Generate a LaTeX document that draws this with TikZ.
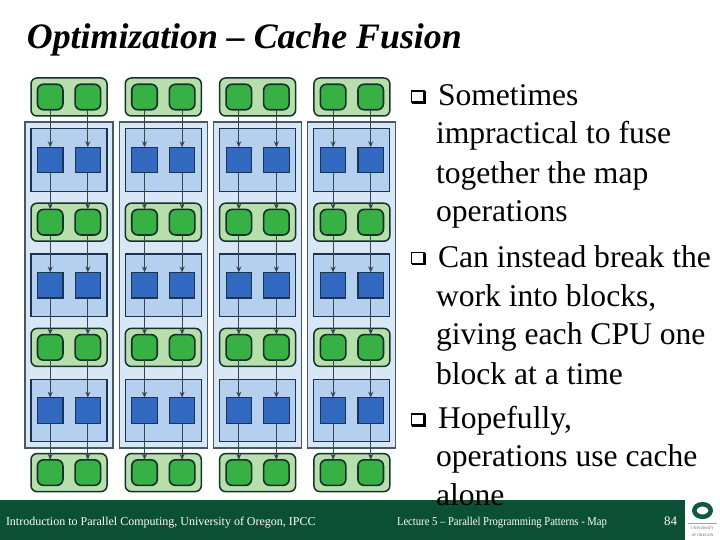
\documentclass[tikz,border=0pt]{standalone}
\usepackage{fontspec}
\setmainfont{Liberation Serif}
\usetikzlibrary{arrows.meta}
\definecolor{grpfill}{HTML}{B6DFAC}
\definecolor{cellfill}{HTML}{37B044}
\definecolor{panelfill}{HTML}{D8E7F6}
\definecolor{blockfill}{HTML}{B5CFEE}
\definecolor{sqfill}{HTML}{3169C1}
\definecolor{edgedark}{HTML}{16302C}
\definecolor{bluedark}{HTML}{1C3350}
\definecolor{paneledge}{HTML}{465A66}
\definecolor{linkcol}{HTML}{37454F}
\definecolor{footgreen}{HTML}{0B4F35}
\definecolor{logogreen}{HTML}{0F5A3C}
\tikzset{
  every node/.style={inner sep=0pt,outer sep=0pt},
  grpbox/.style={draw=edgedark,fill=grpfill,line width=1.5pt,rounded corners=6pt,minimum width=76pt,minimum height=38pt},
  cellbox/.style={draw=edgedark,fill=cellfill,line width=1.6pt,rounded corners=6pt,minimum width=25.5pt,minimum height=25.5pt},
  panelbox/.style={draw=paneledge,fill=panelfill,line width=1.1pt,minimum width=88pt,minimum height=326pt},
  blockbox/.style={draw=bluedark,fill=blockfill,line width=1.1pt,minimum width=76pt,minimum height=62.5pt},
  sqbox/.style={draw=bluedark,fill=sqfill,line width=1.1pt,minimum width=25.5pt,minimum height=25.5pt},
  link/.style={draw=linkcol,line width=1pt,-{Stealth[length=6pt,width=5pt]}},
  bodytext/.style={anchor=base west,font=\fontsize{31.6}{31.6}\selectfont},
  foot/.style={anchor=base west,text=white,font=\fontsize{12}{12}\selectfont},
}
\newcommand{\bulletbox}[3]{%
  \node[draw=black,line width=1.3pt,fill=white,minimum width=12.5pt,minimum height=11pt,anchor=north west] (#1) at (#2,#3) {};
  \fill[black] (#1.north east) rectangle ([xshift=1.8pt]#1.south east);
  \fill[black] ([yshift=-1.6pt,xshift=1.8pt]#1.south east) rectangle (#1.south west);
}
\begin{document}
\begin{tikzpicture}[x=1pt,y=-1pt]
\useasboundingbox (0,0) rectangle (720,540);
\fill[white] (0,0) rectangle (720,540);
% title
\node[anchor=base west,font=\fontsize{35.8}{35.8}\selectfont\bfseries\itshape] (title) at (27,49) {Optimization – Cache Fusion};
% columns
\foreach \c in {0,1,2,3} {
  \pgfmathsetmacro{\xc}{69+94.3*\c}
  \node[panelbox] (panel\c) at (\xc,285) {};
  \foreach \r in {0,1,2} {
    \pgfmathsetmacro{\yb}{160+125.2*\r}
    \node[blockbox] (block\c\r) at (\xc,\yb) {};
  }
  \foreach \r in {0,1,2,3} {
    \pgfmathsetmacro{\yg}{97+125.2*\r}
    \node[grpbox] (grp\c\r) at (\xc,\yg) {};
    \node[cellbox] (cl\c\r) at (\xc-18.8,\yg) {};
    \node[cellbox] (cr\c\r) at (\xc+18.8,\yg) {};
  }
  \foreach \r in {0,1,2} {
    \pgfmathsetmacro{\yb}{160+125.2*\r}
    \node[sqbox] (sl\c\r) at (\xc-18.8,\yb) {};
    \node[sqbox] (sr\c\r) at (\xc+18.8,\yb) {};
    \pgfmathtruncatemacro{\n}{\r+1}
    \draw[link] (cl\c\r.south) -- (sl\c\r.north);
    \draw[link] (cr\c\r.south) -- (sr\c\r.north);
    \draw[link] (sl\c\r.south) -- (cl\c\n.north);
    \draw[link] (sr\c\r.south) -- (cr\c\n.north);
  }
}
% footer
\fill[footgreen] (0,500) rectangle (685,540);
\node[foot] (f1) at (6,525) {Introduction to Parallel Computing, University of Oregon, IPCC};
\node[foot] (f2) at (397,525) {\scalebox{0.886}[1]{Lecture 5 – Parallel Programming Patterns - Map}};
\node[foot,font=\fontsize{13}{13}\selectfont] (f3) at (664,525) {84};
% bullets and text
\bulletbox{b1}{411.5}{91}
\bulletbox{b2}{411.5}{252.5}
\bulletbox{b3}{411.5}{414}
\node[bodytext] (t1) at (438,106) {Sometimes};
\node[bodytext] (t2) at (436,144) {impractical to fuse};
\node[bodytext] (t3) at (436,184) {together the map};
\node[bodytext] (t4) at (436,222) {operations};
\node[bodytext] (t5) at (438,267) {Can instead break the};
\node[bodytext] (t6) at (436,306) {work into blocks,};
\node[bodytext] (t7) at (436,344) {giving each CPU one};
\node[bodytext] (t8) at (436,384) {block at a time};
\node[bodytext] (t9) at (438,428) {Hopefully,};
\node[bodytext] (t10) at (436,466.5) {operations use cache};
\node[bodytext] (t11) at (436,505) {alone};
% logo
\draw[logogreen,line width=4.5pt] (702.5,510.5) ellipse (8.2pt and 6.3pt);
\fill[black!35] (688,522.5) rectangle (717,523);
\node[font=\fontsize{3.8}{3.8}\selectfont,text=black!65] (l1) at (702.5,528) {UNIVERSITY};
\node[font=\fontsize{3.8}{3.8}\selectfont,text=black!65] (l2) at (702.5,535) {OF OREGON};
\end{tikzpicture}
\end{document}
